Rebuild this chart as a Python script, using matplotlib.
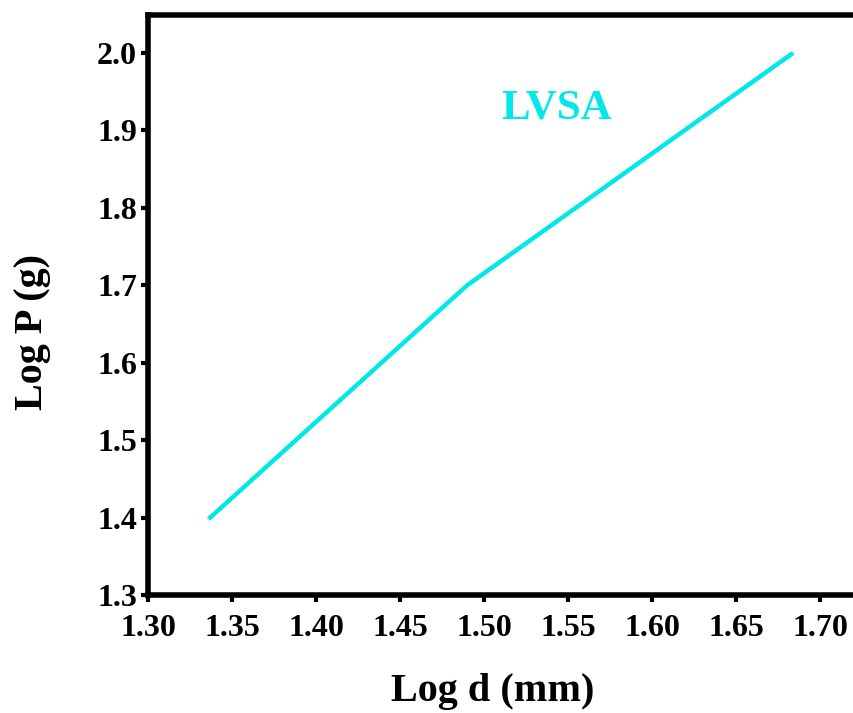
import matplotlib.pyplot as plt

# values
log_d = [1.336, 1.490, 1.684]
log_p = [1.398, 1.700, 2.000]
x_ticks = [1.30, 1.35, 1.40, 1.45, 1.50, 1.55, 1.60, 1.65, 1.70]
y_ticks = [1.3, 1.4, 1.5, 1.6, 1.7, 1.8, 1.9, 2.0]

plt.rcParams['font.family'] = ['Liberation Serif', 'DejaVu Serif']
plt.rcParams['font.weight'] = 'bold'

fig = plt.figure(figsize=(8.54, 7.13), dpi=100)
# right edge of the axes lies outside the figure, as in the reference crop
ax = fig.add_axes([148 / 854, 118 / 713, 756 / 854, 580 / 713])

ax.plot(log_d, log_p, color='#00e8e8', linewidth=3.2, solid_capstyle='butt')
ax.text(1.543, 1.928, "LVSA", color='#00e8e8', fontsize=31, fontweight='bold',
        ha='center', va='center')

ax.set_xlim(1.30, 1.75)
ax.set_ylim(1.30, 2.049)
ax.set_xticks(x_ticks)
ax.set_xticklabels(["%.2f" % v for v in x_ticks])
ax.set_yticks(y_ticks)
ax.set_yticklabels(["%.1f" % v for v in y_ticks])

for s in ax.spines.values():
    s.set_linewidth(4)
ax.tick_params(direction='out', length=5, width=3, labelsize=23)
ax.tick_params(axis='x', pad=9)
ax.tick_params(axis='y', pad=3)

ax.set_xlabel("Log d (mm)", fontsize=29, fontweight='bold')
ax.set_ylabel("Log P (g)", fontsize=29, fontweight='bold')
ax.xaxis.label.set_va('center')
ax.yaxis.label.set_va('center')
ax.xaxis.set_label_coords(0.456, -0.166)
ax.yaxis.set_label_coords(-0.153, 0.453)

fig.savefig("out.png", dpi=100)
